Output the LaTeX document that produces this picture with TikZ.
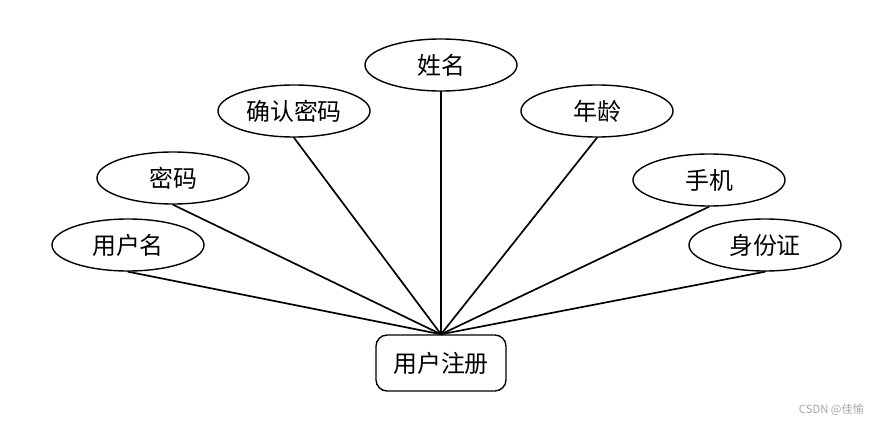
\documentclass[tikz,border=0pt]{standalone}
\usepackage{fontspec}
\newfontfamily\cjk{Noto Sans CJK SC}
\usetikzlibrary{shapes.geometric}

\begin{document}
\begin{tikzpicture}[x=0.025cm, y=-0.025cm, line cap=round,
    attr/.style={ellipse, draw, line width=1pt, minimum width=3.8cm, minimum height=1.3cm,
      inner sep=0pt, font=\cjk\fontsize{17}{17}\selectfont},
    entity/.style={draw, line width=1pt, rounded corners=0.28cm, minimum width=3.25cm,
      minimum height=1.4cm, inner sep=0pt, font=\cjk\fontsize{17}{17}\selectfont},
    link/.style={line width=1.2pt}]
  \useasboundingbox (0,0) rectangle (883,426);
  % ===== entity =====
  \node[entity] (reg) at (441,363) {用户注册};
  % ===== attributes =====
  \node[attr] (uname) at (128,245) {用户名};
  \node[attr] (pwd)   at (173,178) {密码};
  \node[attr] (cpwd)  at (294,111) {确认密码};
  \node[attr] (name)  at (441,65)  {姓名};
  \node[attr] (age)   at (597,111) {年龄};
  \node[attr] (phone) at (709,180) {手机};
  \node[attr] (idno)  at (765,245) {身份证};
  % ===== links: each attribute to the entity =====
  \foreach \a in {uname,pwd,cpwd,name,age,phone,idno}
    \draw[link] (\a.south) -- (reg.north);
  % watermark
  \node[gray!70, font=\cjk\fontsize{8}{8}\selectfont, anchor=east] (mark) at (869,410) {CSDN @佳愉};
\end{tikzpicture}
\end{document}
